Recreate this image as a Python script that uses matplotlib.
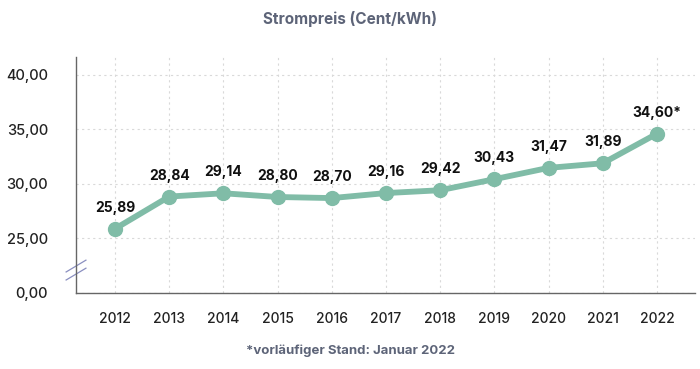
import numpy as np
import matplotlib.pyplot as plt

years = [2012, 2013, 2014, 2015, 2016, 2017, 2018, 2019, 2020, 2021, 2022]
preis = [25.89, 28.84, 29.14, 28.80, 28.70, 29.16, 29.42, 30.43, 31.47, 31.89, 34.60]
labels = ["25,89", "28,84", "29,14", "28,80", "28,70", "29,16", "29,42", "30,43", "31,47", "31,89", "34,60*"]
ytick_pos = [20, 25, 30, 35, 40]
ytick_txt = ["0,00", "25,00", "30,00", "35,00", "40,00"]

plt.rcParams['font.family'] = ['Inter', 'DejaVu Sans']

fig = plt.figure(figsize=(7, 3.69), dpi=100)
ax = fig.add_axes([0.1086, 0.206, 0.884, 0.640])

green = '#80bca7'
ax.plot(years, preis, color=green, lw=4.2, marker='o', ms=10, solid_capstyle='round', zorder=3)

for x, y, t in zip(years, preis, labels):
    ax.annotate(t, (x, y), xytext=(0, 10), textcoords='offset points',
                ha='center', va='bottom', fontsize=10, fontweight='bold', color='#111111')

ax.set_xlim(2011.28, 2022.7)
ax.set_ylim(20, 41.65)
ax.set_xticks(years)
ax.set_xticklabels([str(y) for y in years], fontsize=10, fontweight='medium', color='#222222')
ax.set_yticks(ytick_pos)
ax.set_yticklabels(ytick_txt, fontsize=10.5, fontweight='medium', color='#222222')
ax.tick_params(length=0, pad=14)
ax.tick_params(axis='y', pad=20)

ax.grid(True, linestyle=(0, (2, 3)), color='#d9d9d9', lw=0.8)
ax.set_axisbelow(True)
for s in ['top', 'right']:
    ax.spines[s].set_visible(False)
for s in ['left', 'bottom']:
    ax.spines[s].set_color('#666666')
    ax.spines[s].set_linewidth(1.0)

# axis break marks
for dy in (-0.017, 0.017):
    ax.plot([-0.016, 0.016], [0.072 + dy, 0.122 + dy], transform=ax.transAxes,
            color='#8a8fc0', lw=0.9, clip_on=False)

fig.text(0.5, 0.948, "Strompreis (Cent/kWh)", ha='center', va='center',
         fontsize=11, fontweight='bold', color='#5d6478')
fig.text(0.5, 0.05, "*vorläufiger Stand: Januar 2022", ha='center', va='center',
         fontsize=9.5, fontweight='bold', color='#5d6478')

fig.savefig('out.png', dpi=100)
